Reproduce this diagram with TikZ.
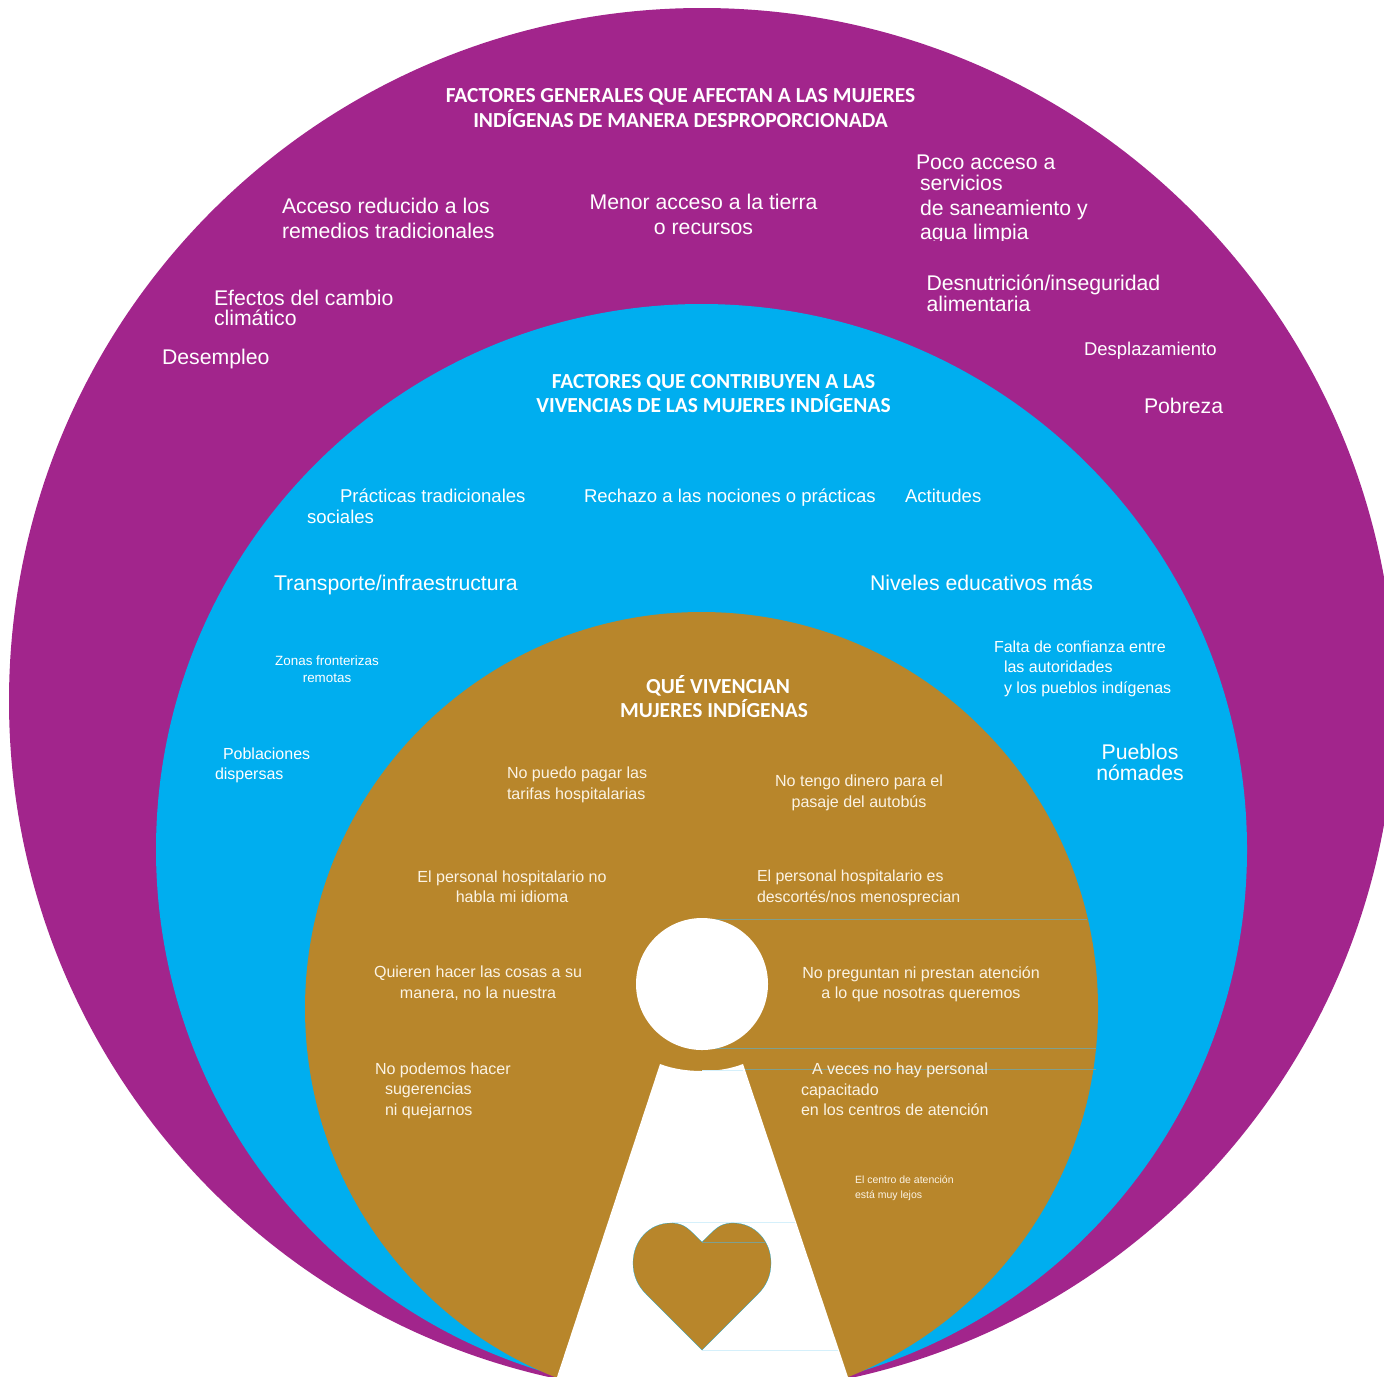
\documentclass[tikz,border=0pt]{standalone}
\usepackage{fontspec}
\setmainfont{Liberation Sans}
\newfontfamily\titlefont{Carlito}
\definecolor{cPurple}{HTML}{A2258C}
\definecolor{cBlue}{HTML}{00AEEF}
\definecolor{cBrown}{HTML}{B8862B}
\definecolor{cCream}{HTML}{FBF3E4}
\definecolor{cRule}{HTML}{7FA08F}
\definecolor{cPale}{HTML}{D5F0FB}
\newcommand{\fsz}[2]{\fontsize{#1pt}{#2pt}\selectfont}
\tikzset{
  txt/.style={text=white,inner sep=0pt,outer sep=0pt,anchor=west,align=left},
  ctxt/.style={text=white,inner sep=0pt,outer sep=0pt,anchor=center,align=center},
  ttl/.style={ctxt,font=\titlefont\bfseries\fsz{10.72}{12.25}},
  big/.style={font=\fsz{10.62}{12.5}},
  mid/.style={font=\fsz{9.27}{10.5}},
  brw/.style={text=cCream,font=\fsz{8.03}{10.2}},
  srule/.style={cRule,line width=0.25pt},
  prule/.style={cPale,line width=0.5pt}
}
\begin{document}
\begin{tikzpicture}[x=0.5pt,y=-0.5pt]
\useasboundingbox (0,0) rectangle (1384,1376);
\clip (0,0) rectangle (1384,1376);
\fill[cPurple] (702,701) circle [radius=693];
\fill[cBlue] (701.5,849.5) circle [radius=545.5];
\fill[cBrown] (701.5,1008.5) circle [radius=396.5];
% hairlines
\draw[srule] (702,919) -- (1087,919);
\draw[srule] (702,1048) -- (1096,1048);
\draw[srule] (743,1069.5) -- (1096,1069.5);
\fill[white] (702,984) circle [radius=66];
\fill[white] (556,1380) -- (660,1064) .. controls (673,1069) and (688,1071) .. (702,1071)
  .. controls (716,1071) and (730,1069) .. (743,1064) -- (849,1380) -- cycle;
\draw[prule] (702,1070.5) -- (743,1070.5);
\draw[prule] (672,1222.8) -- (795,1222.8);
\draw[prule] (702,1350) -- (838,1350);
% heart
\filldraw[fill=cBrown,draw=cBlue,line width=0.1pt] (702,1242)
  .. controls (690,1231) and (686,1223) .. (671,1223)
  .. controls (649,1223) and (633,1241) .. (633,1263)
  .. controls (633,1276) and (638,1286) .. (646,1294)
  -- (702,1350) -- (758,1294)
  .. controls (766,1286) and (771,1276) .. (771,1263)
  .. controls (771,1241) and (755,1223) .. (733,1223)
  .. controls (718,1223) and (714,1231) .. (702,1242) -- cycle;
\draw[srule] (702,1242) -- (765,1242);
% purple ring
\node[ttl,font=\titlefont\bfseries\fsz{10.72}{12.5}] (t1) at (680.5,108.5) {FACTORES GENERALES QUE AFECTAN A LAS MUJERES\\INDÍGENAS DE MANERA DESPROPORCIONADA};
\node[txt,big] (a1) at (282,218.5) {Acceso reducido a los\\remedios tradicionales};
\node[ctxt,big] (a2) at (703.5,214.5) {Menor acceso a la tierra\\o recursos};
\begin{scope}
\clip (900,140) rectangle (1110,240);
\node[txt,anchor=north west,font=\fsz{10.62}{10.5}] (a3) at (916,155) {Poco acceso a\\\hspace*{2pt}servicios\\[2pt]\hspace*{2pt}de saneamiento y\\[1.5pt]\hspace*{2pt}agua limpia};
\end{scope}
\node[txt,font=\fsz{10.62}{10.5}] (a4) at (926.5,293.5) {Desnutrición/inseguridad\\alimentaria};
\node[txt,font=\fsz{10.62}{10}] (a5) at (214,308) {Efectos del cambio\\climático};
\node[txt,big] (a6) at (162,359) {Desempleo};
\node[txt,font=\fsz{9.25}{10}] (a7) at (1084,351) {Desplazamiento};
\node[txt,big] (a8) at (1144,406) {Pobreza};
% blue ring
\node[ttl,font=\titlefont\bfseries\fsz{10.72}{12}] (t2) at (713.5,393.5) {FACTORES QUE CONTRIBUYEN A LAS\\VIVENCIAS DE LAS MUJERES INDÍGENAS};
\node[txt,mid] (b1) at (307,506.5) {\hspace*{16.5pt}Prácticas tradicionales\\sociales};
\node[txt,mid] (b2) at (584,498) {Rechazo a las nociones o prácticas};
\node[txt,mid] (b3) at (905,496) {Actitudes};
\node[txt,big] (b4) at (274,585) {Transporte/infraestructura};
\node[txt,big] (b5) at (870,583) {Niveles educativos más};
\node[ctxt,font=\fsz{6.7}{8.5}] (b6) at (327,669.5) {Zonas fronterizas\\remotas};
\node[txt,font=\fsz{8}{10.25}] (b7) at (994,668.5) {Falta de confianza entre\\\hspace*{5pt}las autoridades\\\hspace*{5pt}y los pueblos indígenas};
\node[ctxt,font=\fsz{10.62}{10.5}] (b8) at (1140,762.5) {Pueblos\\nómades};
\node[txt,font=\fsz{8}{10}] (b9) at (215,765) {\hspace*{4pt}Poblaciones\\dispersas};
% brown disc
\node[ttl,font=\titlefont\bfseries\fsz{10.72}{12}] (t3) at (714,696.5) {\hspace*{4pt}QUÉ VIVENCIAN\\MUJERES INDÍGENAS};
\node[txt,brw] (c1) at (507,785) {No puedo pagar las\\tarifas hospitalarias};
\node[ctxt,brw] (c2) at (859,793) {No tengo dinero para el\\pasaje del autobús};
\node[ctxt,brw] (c3) at (512,887) {El personal hospitalario no\\habla mi idioma};
\node[txt,brw,font=\fsz{7.95}{10.2}] (c4) at (757,888) {El personal hospitalario es\\descortés/nos menosprecian};
\node[ctxt,brw] (c5) at (478,983) {Quieren hacer las cosas a su\\manera, no la nuestra};
\node[ctxt,brw] (c6) at (921,984) {No preguntan ni prestan atención\\a lo que nosotras queremos};
\node[txt,brw] (c7) at (375,1090.5) {No podemos hacer\\\hspace*{5pt}sugerencias\\\hspace*{5pt}ni quejarnos};
\node[txt,brw] (c8) at (801,1089.5) {\hspace*{5.5pt}A veces no hay personal\\capacitado\\en los centros de atención};
\node[txt,brw,font=\fsz{5.25}{7.5}] (c9) at (855,1188.5) {El centro de atención\\está muy lejos};
\end{tikzpicture}
\end{document}
